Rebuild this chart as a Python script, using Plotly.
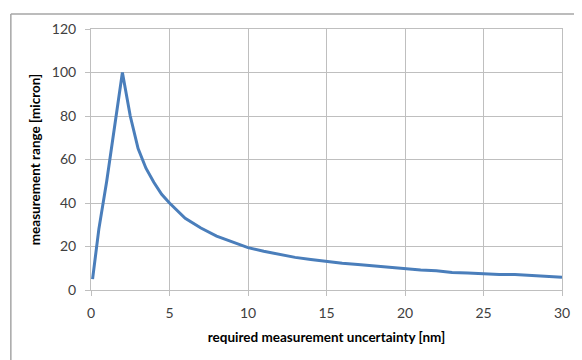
import plotly.graph_objects as go

uncertainty_nm = [0.1, 0.5, 1, 1.5, 2, 2.5, 3, 3.5, 4, 4.5, 5, 6, 7, 8, 9, 10,
                  11, 12, 13, 14, 15, 16, 17, 18, 19, 20, 21, 22, 23, 24, 25,
                  26, 27, 28, 29, 30]
range_micron = [5, 28, 50, 76, 100, 80, 65, 56, 49.5, 44, 40, 33, 28.5, 24.8, 22, 19.5,
                17.8, 16.3, 15, 14, 13, 12.3, 11.7, 11, 10.3, 9.6, 9.2, 8.9, 8.1, 7.8, 7.4,
                7.1, 7.1, 6.7, 6.3, 5.9]

x_ticks = [0, 5, 10, 15, 20, 25, 30]
y_ticks = [0, 20, 40, 60, 80, 100, 120]

font_family = "Lato, 'Open Sans', sans-serif"

# the page body adds an 8px offset; the figure is sized/placed to compensate
W, H = 574, 352
L, R, T, B = 83, 15, 16, 70
PW, PH = W - L - R, H - T - B

fig = go.Figure()
fig.add_trace(go.Scatter(
    x=uncertainty_nm, y=range_micron, mode="lines",
    line=dict(color="#4a7ebb", width=3),
    showlegend=False, hoverinfo="skip"))

axis_common = dict(
    showgrid=True, gridcolor="#bfbfbf", gridwidth=1,
    showline=True, linecolor="#bfbfbf", linewidth=1, mirror=True,
    ticks="outside", ticklen=5, tickcolor="#bfbfbf",
    zeroline=False,
    tickfont=dict(family=font_family, size=14, color="#404040"),
)

fig.update_xaxes(range=[0, 30], tickvals=x_ticks, ticktext=[str(v) for v in x_ticks],
                 ticklabelstandoff=5,
                 title=dict(text="<b>required measurement uncertainty [nm]</b>",
                            font=dict(family=font_family, size=13.5, color="#000000"),
                            standoff=12),
                 **axis_common)
fig.update_yaxes(range=[0, 120], tickvals=y_ticks, ticktext=[str(v) for v in y_ticks],
                 ticklabelstandoff=6,
                 title=dict(text="<b>measurement range [micron]</b>",
                            font=dict(family=font_family, size=13.5, color="#000000"),
                            standoff=8),
                 **axis_common)

# outer chart border (partly cropped in the reference)
bx = (2 - L) / PW
by = (PH + T - 0.75) / PH
fig.add_shape(type="line", xref="paper", yref="paper",
              x0=bx, x1=(W - L + 5) / PW, y0=by, y1=by,
              line=dict(color="#a6a6a6", width=1.5))
fig.add_shape(type="line", xref="paper", yref="paper",
              x0=bx, x1=bx, y0=by, y1=-(B + 10) / PH,
              line=dict(color="#a6a6a6", width=1.5))

fig.update_layout(
    width=W, height=H,
    margin=dict(l=L, r=R, t=T, b=B),
    paper_bgcolor="white", plot_bgcolor="white",
)

fig.write_html("out.html")
